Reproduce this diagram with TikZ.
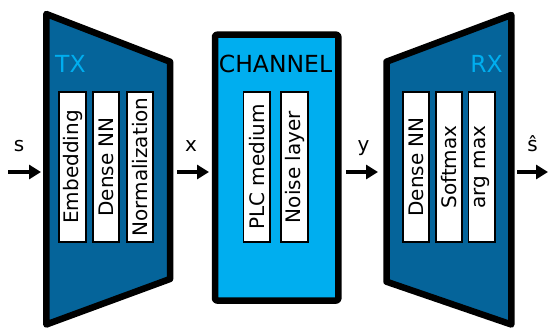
\documentclass[tikz,border=0pt]{standalone}
\usepackage{fontspec}
\setmainfont{DejaVu Sans}
\usetikzlibrary{arrows.meta}
\definecolor{dblue}{HTML}{05649A}
\definecolor{cyanb}{HTML}{00AEEF}
\begin{document}
\begin{tikzpicture}[x=1pt,y=-1pt,
  block/.style={draw=black,line width=6.5pt,line join=round},
  layer/.style={draw=black,fill=white,line width=1.6pt,minimum width=150.5pt,minimum height=26.5pt,inner sep=0pt,rotate=90,font=\fontsize{20}{24}\selectfont},
  title/.style={font=\fontsize{23.5}{28}\selectfont,inner sep=0pt},
  lbl/.style={font=\fontsize{20}{24}\selectfont,inner sep=0pt,anchor=base},
  arr/.style={line width=4.5pt,-{Triangle[length=12pt,width=14pt]}}]
\useasboundingbox (0,0) rectangle (548,329);
\fill[white] (0,0) rectangle (548,329);
% TX
\draw[block,fill=dblue] (46.3,14) -- (170,61.7) -- (170,279) -- (46.3,324.5) -- cycle;
\node[title,text=cyanb,anchor=base west] (tx) at (55,72) {TX};
\node[layer] (emb) at (72.5,167) {Embedding};
\node[layer] (dnn1) at (106,167) {Dense NN};
\node[layer] (norm) at (140,167) {Normalization};
% CHANNEL
\draw[block,fill=cyanb,rounded corners=2pt] (215,34.7) rectangle (338.3,300.5);
\node[title,anchor=base] (ch) at (275.5,72) {CHANNEL};
\node[layer] (plc) at (256.7,167) {PLC medium};
\node[layer] (noise) at (294.5,167) {Noise layer};
% RX
\draw[block,fill=dblue] (386.5,61.7) -- (511.3,15) -- (511.3,324.5) -- (386.5,281.7) -- cycle;
\node[title,text=cyanb,anchor=base east] (rx) at (503,72) {RX};
\node[layer] (dnn2) at (416,167) {Dense NN};
\node[layer] (soft) at (449,167) {Softmax};
\node[layer] (amax) at (481.7,167) {arg max};
% arrows
\coordinate (s0) at (8,172);   \coordinate (s1) at (41,172);
\coordinate (x0) at (177,172); \coordinate (x1) at (209,172);
\coordinate (y0) at (346,172); \coordinate (y1) at (378,172);
\coordinate (h0) at (517,172); \coordinate (h1) at (548,172);
\draw[arr] (s0) -- (s1);
\draw[arr] (x0) -- (x1);
\draw[arr] (y0) -- (y1);
\draw[arr] (h0) -- (h1);
\node[lbl] (ls) at (19,151) {s};
\node[lbl] (lx) at (191,151) {x};
\node[lbl] (ly) at (363.5,151) {y};
\node[lbl] (lh) at (532.5,151) {ŝ};
\end{tikzpicture}
\end{document}
